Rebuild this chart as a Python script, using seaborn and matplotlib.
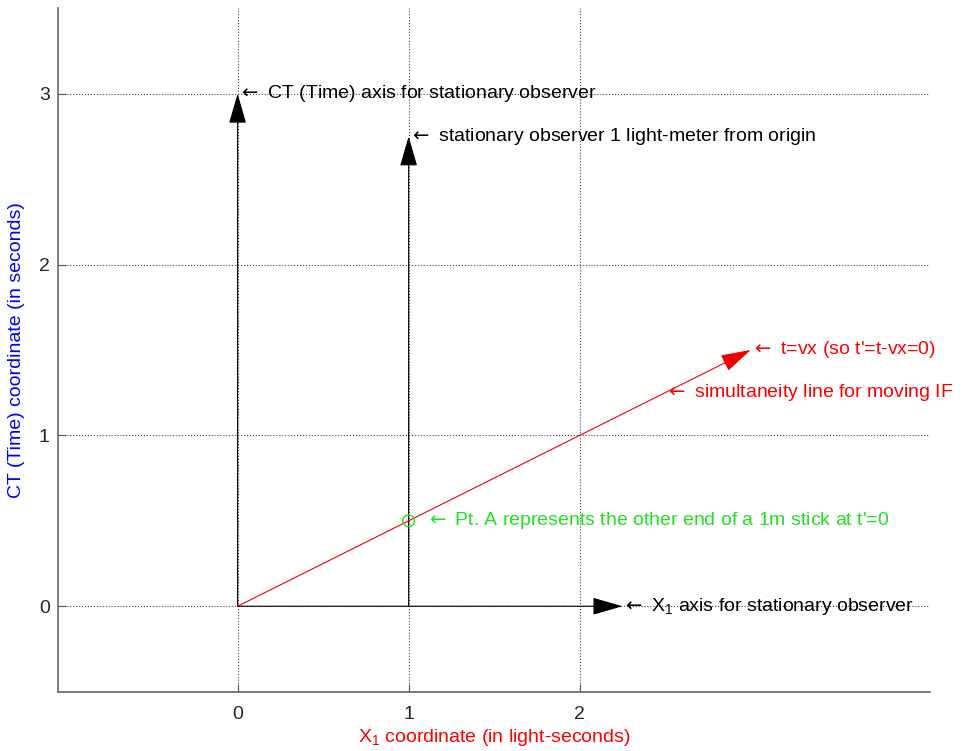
import matplotlib
matplotlib.use("Agg")
import matplotlib.pyplot as plt
import seaborn as sns
import pandas as pd

# vectors drawn as arrows: start -> end
vec_x0 = [0, 1, 0, 0]
vec_y0 = [0, 0, 0, 0]
vec_x1 = [0, 1, 2.25, 3]
vec_y1 = [3, 2.75, 0, 1.5]
vec_colors = ["black", "black", "black", "#ee0000"]

# annotation texts (placed at arrow tips etc.)
note_x = [0, 1, 2.25, 3, 2.5, 1]
note_y = [3, 2.75, 0, 1.5, 1.25, 0.5]
note_text = [
    "$\\leftarrow$ CT (Time) axis for stationary observer",
    "$\\leftarrow$ stationary observer 1 light-meter from origin",
    "$\\leftarrow$ $\\mathregular{X_1}$ axis for stationary observer",
    "$\\leftarrow$ t=vx (so t'=t-vx=0)",
    "$\\leftarrow$ simultaneity line for moving IF",
    "   $\\leftarrow$ Pt. A represents the other end of a 1m stick at t'=0",
]
note_colors = ["black", "black", "black", "red", "red", "#22e022"]

# point A
pt_x = [1]
pt_y = [0.5]

x_ticks = [0, 1, 2]
y_ticks = [0, 1, 2, 3]

sns.set_style("white")
plt.rcParams["font.family"] = ["Liberation Sans", "DejaVu Sans"]

fig = plt.figure(figsize=(9.67, 7.51), dpi=100)
ax = fig.add_axes([0.06, 0.079, 0.902, 0.910])

for x0, y0, x1, y1, c in zip(vec_x0, vec_y0, vec_x1, vec_y1, vec_colors):
    ax.annotate(
        "",
        xy=(x1, y1),
        xytext=(x0, y0),
        arrowprops=dict(
            arrowstyle="-|>,head_length=1.9,head_width=0.55",
            mutation_scale=10,
            color=c,
            lw=0.8,
            shrinkA=0,
            shrinkB=0,
        ),
        zorder=3,
    )

sns.scatterplot(
    data=pd.DataFrame({"x": pt_x, "y": pt_y}),
    x="x",
    y="y",
    marker="o",
    s=70,
    facecolor="none",
    edgecolor="#22e022",
    linewidth=1.0,
    ax=ax,
    zorder=4,
)

for x, y, t, c in zip(note_x, note_y, note_text, note_colors):
    ax.text(x, y, t, color=c, fontsize=14, va="center", ha="left", zorder=5)

ax.set_xlim(-1.05, 4.05)
ax.set_ylim(-0.5, 3.5)
ax.set_xticks(x_ticks)
ax.set_yticks(y_ticks)
ax.tick_params(direction="in", length=6, color="#555555", labelsize=14,
               top=False, right=False, left=True, bottom=True)
ax.tick_params(axis="x", pad=10)
ax.tick_params(axis="y", pad=6)
ax.grid(True, linestyle=":", color="#444444", linewidth=0.8)
for side in ["top", "right"]:
    ax.spines[side].set_visible(False)
for side in ["left", "bottom"]:
    ax.spines[side].set_color("#666666")
    ax.spines[side].set_linewidth(1.2)

ax.set_xlabel("$\\mathregular{X_1}$ coordinate (in light-seconds)", color="red", fontsize=14, labelpad=3)
ax.set_ylabel("CT (Time) coordinate (in seconds)", color="blue", fontsize=14, labelpad=10)

plt.savefig("out.png", dpi=100)
